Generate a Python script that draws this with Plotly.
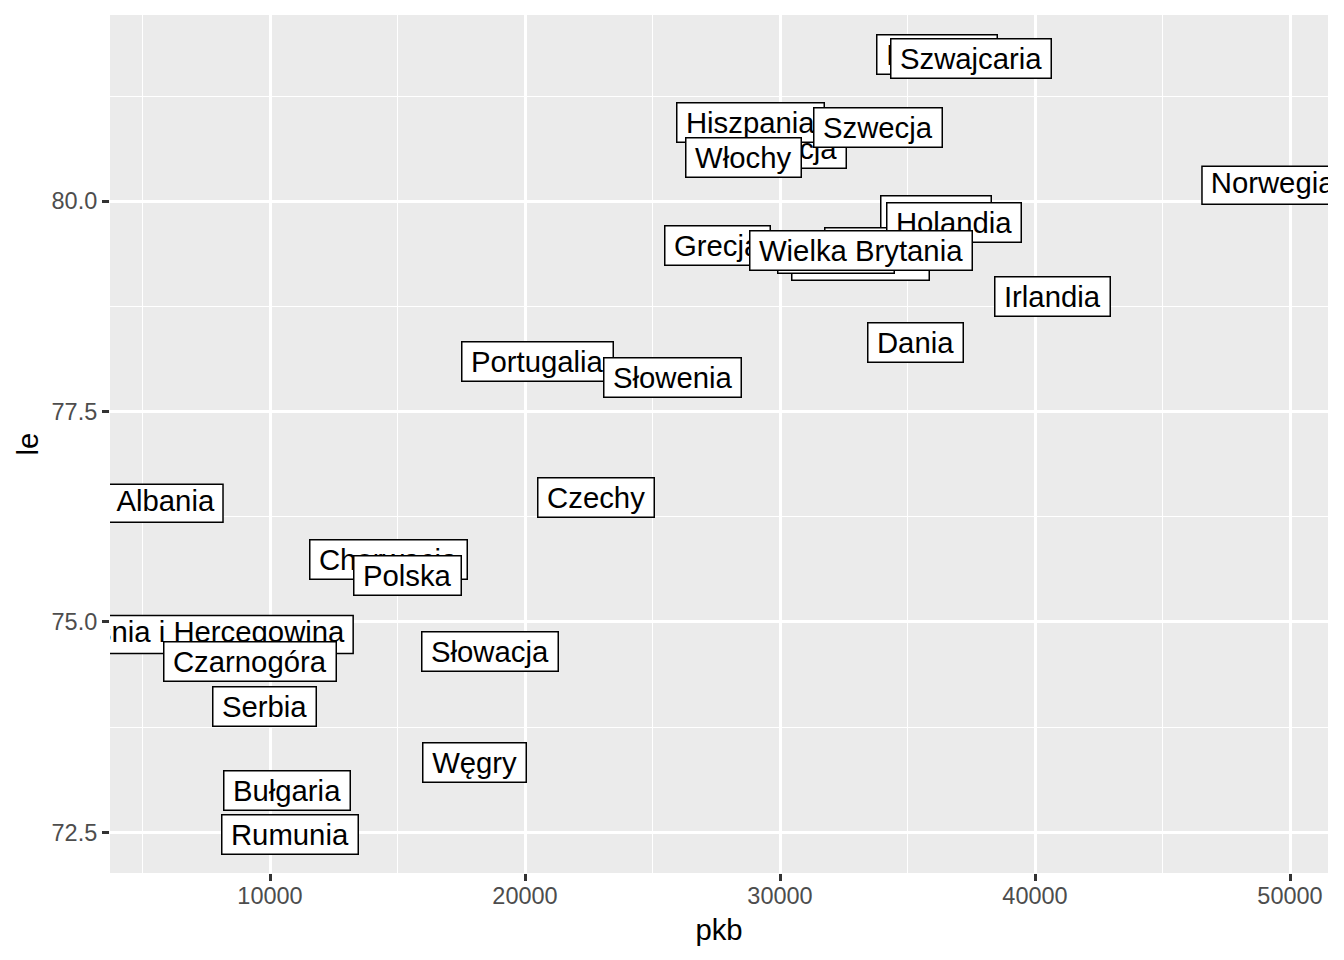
import plotly.graph_objects as go

# countries in the order ggplot draws them (later labels sit on top)
kraj = ["Albania", "Austria", "Belgia", "Bośnia i Hercegowina", "Bułgaria", "Chorwacja",
        "Czarnogóra", "Czechy", "Dania", "Finlandia", "Francja", "Grecja", "Hiszpania",
        "Holandia", "Irlandia", "Islandia", "Niemcy", "Norwegia", "Polska", "Portugalia",
        "Rumunia", "Serbia", "Słowacja", "Słowenia", "Szwajcaria", "Szwecja", "Węgry",
        "Wielka Brytania", "Włochy"]
pkb = [5896, 36118, 33725, 7360, 10667, 14627,
       9216, 22784, 35294, 33176, 30314, 27529, 28824,
       36824, 40667, 36160, 32196, 49319, 15373, 20471,
       10784, 9765, 18627, 25765, 37490, 33843, 18000,
       33176, 28549]
le = [76.41, 79.83, 79.45, 74.85, 73.00, 75.74,
      74.53, 76.48, 78.32, 79.30, 80.63, 79.48, 80.94,
      79.75, 78.87, 81.75, 79.38, 80.19, 75.55, 78.09,
      72.48, 74.00, 74.65, 77.91, 81.70, 80.88, 73.33,
      79.41, 80.52]

x_ticks = [10000, 20000, 30000, 40000, 50000]
y_ticks = [72.5, 75.0, 77.5, 80.0]

FONT = "Liberation Sans"
LABEL_SIZE = 29.3
PAD = 8.8
BOX_H = 38
PANEL_W = 1218

# helvetica advance widths (1/1000 em) so label boxes fit their text
W = {"A": 667, "B": 667, "C": 722, "D": 722, "F": 611, "G": 778, "H": 722, "I": 278,
     "N": 722, "P": 667, "R": 722, "S": 667, "W": 944, "a": 556, "b": 556, "c": 500,
     "d": 556, "e": 556, "f": 278, "g": 556, "h": 556, "i": 222, "j": 222, "k": 500,
     "l": 222, "m": 833, "n": 556, "o": 556, "p": 556, "r": 333, "s": 500, "t": 278,
     "u": 556, "w": 722, "y": 500, "z": 500, "ś": 500, "ł": 222, "ó": 556, "ę": 556,
     " ": 278}


def text_width(s):
    return sum(W.get(ch, 556) for ch in s) / 1000 * LABEL_SIZE


# expand 5% like ggplot
xr = [min(pkb) - 0.05 * (max(pkb) - min(pkb)), max(pkb) + 0.05 * (max(pkb) - min(pkb))]
yr = [min(le) - 0.05 * (max(le) - min(le)), max(le) + 0.05 * (max(le) - min(le))]
px_to_x = (xr[1] - xr[0]) / PANEL_W

fig = go.Figure()

annotations = []
shapes = []
clip_x, clip_y, clip_t = [], [], []
for name, x, y in zip(kraj, pkb, le):
    w = text_width(name) + 2 * PAD
    # labels sticking out of the panel must be clipped -> shape + text trace
    if x - 0.5 * w * px_to_x < xr[0] or x + 0.5 * w * px_to_x > xr[1]:
        shapes.append(dict(
            type="rect", layer="between", xref="x", yref="y",
            xsizemode="pixel", ysizemode="pixel", xanchor=x, yanchor=y,
            x0=-w / 2, x1=w / 2, y0=-BOX_H / 2, y1=BOX_H / 2,
            fillcolor="white", line=dict(color="black", width=1.5),
        ))
        clip_x.append(x)
        clip_y.append(y)
        clip_t.append(name)
    else:
        annotations.append(dict(
            x=x, y=y, xref="x", yref="y", text=name, showarrow=False,
            width=w, height=BOX_H, borderpad=0, borderwidth=1.5,
            bordercolor="black", bgcolor="white", align="center", valign="middle",
            font=dict(family=FONT, size=LABEL_SIZE, color="black"),
        ))

fig.add_trace(go.Scatter(
    x=clip_x, y=clip_y, text=clip_t, mode="text", cliponaxis=True,
    textposition="middle center",
    textfont=dict(family=FONT, size=LABEL_SIZE, color="black"),
    hoverinfo="skip", showlegend=False,
))

axis_common = dict(
    showgrid=True, gridcolor="white", gridwidth=2.7, zeroline=False, showline=False,
    ticks="outside", ticklen=7, tickwidth=2.7, tickcolor="#333333",
    tickfont=dict(family=FONT, size=23.5, color="#4D4D4D"),
)

# page body keeps an 8px margin, so the figure is a little smaller than the window
fig.update_layout(
    width=1328, height=944,
    margin=dict(l=102, r=8, t=7, b=79),
    paper_bgcolor="white", plot_bgcolor="#EBEBEB",
    font=dict(family=FONT),
    showlegend=False,
    annotations=annotations,
    shapes=shapes,
    xaxis=dict(
        **axis_common, range=xr, tickvals=x_ticks, ticktext=[str(v) for v in x_ticks],
        ticklabelstandoff=-5,
        minor=dict(tickvals=[5000, 15000, 25000, 35000, 45000], showgrid=True,
                   gridcolor="white", gridwidth=1.3, ticks=""),
        title=dict(text="pkb", font=dict(family=FONT, size=29.3, color="black"), standoff=11),
    ),
    yaxis=dict(
        **axis_common, range=yr, tickvals=y_ticks, ticktext=[f"{v:.1f}" for v in y_ticks],
        minor=dict(tickvals=[73.75, 76.25, 78.75, 81.25], showgrid=True,
                   gridcolor="white", gridwidth=1.3, ticks=""),
        title=dict(text="le", font=dict(family=FONT, size=29.3, color="black"), standoff=4),
    ),
)

fig.write_html("out.html", config=dict(displayModeBar=False))
